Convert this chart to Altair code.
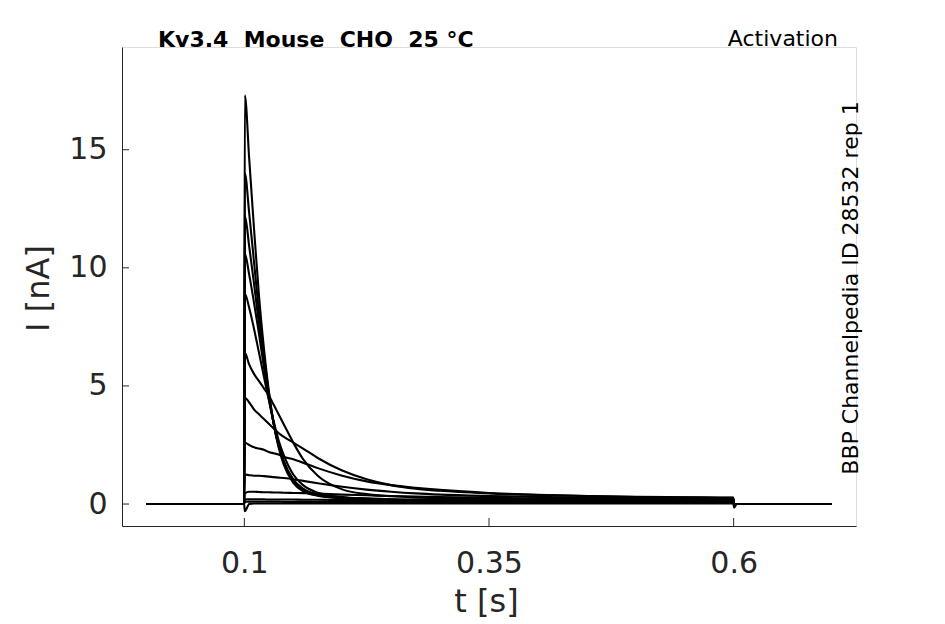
import altair as alt
import pandas as pd

# time grid (s)
t_s = [0.0, 0.0998, 0.1005, 0.105, 0.11, 0.115, 0.12, 0.125, 0.13, 0.135, 0.14,
       0.15, 0.16, 0.175, 0.2, 0.225, 0.25, 0.275, 0.3, 0.35, 0.4, 0.45, 0.5, 0.55,
       0.5995, 0.6005, 0.603, 0.7]

# current traces (nA)
I_a = [0, 0, 17.3, 14.6, 11.6, 8.8, 6.6, 4.8, 3.4, 2.4, 1.7, 0.9, 0.55, 0.35, 0.24, 0.2, 0.17, 0.155, 0.14, 0.12, 0.11, 0.1, 0.1, 0.09, 0.09, 0, 0, 0]
I_b = [0, 0, 14.0, 12.3, 10.2, 8.1, 6.3, 4.7, 3.4, 2.5, 1.8, 1.0, 0.6, 0.37, 0.25, 0.2, 0.18, 0.165, 0.15, 0.13, 0.11, 0.1, 0.1, 0.09, 0.09, 0, 0, 0]
I_c = [0, 0, 12.2, 10.9, 9.3, 7.6, 6.0, 4.6, 3.4, 2.5, 1.8, 1.0, 0.62, 0.38, 0.26, 0.21, 0.18, 0.165, 0.15, 0.13, 0.12, 0.11, 0.1, 0.1, 0.09, 0, 0, 0]
I_d = [0, 0, 10.6, 9.7, 8.5, 7.2, 5.8, 4.5, 3.4, 2.5, 1.85, 1.05, 0.65, 0.4, 0.27, 0.22, 0.19, 0.175, 0.16, 0.14, 0.12, 0.11, 0.11, 0.1, 0.1, 0, 0, 0]
I_e = [0, 0, 8.9, 8.3, 7.4, 6.4, 5.4, 4.4, 3.5, 2.7, 2.1, 1.25, 0.8, 0.48, 0.3, 0.24, 0.2, 0.185, 0.17, 0.15, 0.13, 0.12, 0.11, 0.11, 0.1, 0, 0, 0]
I_f = [0, 0, 6.4, 5.9, 5.5, 5.2, 4.9, 4.6, 4.2, 3.8, 3.4, 2.6, 1.9, 1.2, 0.62, 0.42, 0.33, 0.28, 0.25, 0.21, 0.19, 0.17, 0.16, 0.15, 0.14, 0, 0, 0]
I_g = [0, 0, 4.5, 4.3, 4.0, 3.8, 3.6, 3.4, 3.2, 3.0, 2.85, 2.6, 2.35, 1.95, 1.42, 1.05, 0.8, 0.65, 0.56, 0.45, 0.38, 0.34, 0.31, 0.29, 0.27, 0, 0, 0]
I_h = [0, 0, 2.6, 2.5, 2.4, 2.35, 2.3, 2.2, 2.15, 2.1, 2.0, 1.9, 1.75, 1.52, 1.2, 0.96, 0.8, 0.69, 0.6, 0.47, 0.39, 0.34, 0.3, 0.28, 0.26, 0, 0, 0]
I_i = [0, 0, 1.25, 1.22, 1.2, 1.2, 1.18, 1.16, 1.14, 1.12, 1.1, 1.05, 0.98, 0.88, 0.73, 0.61, 0.52, 0.45, 0.4, 0.34, 0.3, 0.27, 0.25, 0.23, 0.22, 0, 0, 0]
I_j = [0, 0, 0.45, 0.52, 0.52, 0.51, 0.5, 0.5, 0.49, 0.49, 0.48, 0.47, 0.46, 0.44, 0.4, 0.37, 0.34, 0.32, 0.3, 0.26, 0.24, 0.22, 0.2, 0.19, 0.18, 0, 0, 0]
I_k = [0, 0, 0.2, 0.2, 0.2, 0.2, 0.2, 0.19, 0.19, 0.19, 0.19, 0.19, 0.18, 0.18, 0.17, 0.17, 0.16, 0.155, 0.15, 0.15, 0.14, 0.14, 0.13, 0.13, 0.12, 0, 0, 0]
I_l = [0, 0, 0.1, 0.1, 0.1, 0.1, 0.1, 0.1, 0.1, 0.1, 0.09, 0.09, 0.09, 0.09, 0.09, 0.08, 0.08, 0.08, 0.08, 0.08, 0.08, 0.07, 0.07, 0.07, 0.07, 0, 0, 0]
I_m = [0, 0, -0.3, 0.0, 0.02, 0.02, 0.02, 0.02, 0.02, 0.02, 0.02, 0.02, 0.02, 0.02, 0.03, 0.03, 0.03, 0.03, 0.03, 0.03, 0.03, 0.03, 0.03, 0.03, 0.03, -0.15, 0, 0]

x_ticks = [0.1, 0.35, 0.6]
y_ticks = [0, 5, 10, 15]

title_text = "Kv3.4\u00a0\u00a0Mouse\u00a0\u00a0CHO\u00a0\u00a025 °C"
right_text = "Activation"
side_text = "BBP Channelpedia ID 28532 rep 1"

traces = {"a": I_a, "b": I_b, "c": I_c, "d": I_d, "e": I_e, "f": I_f, "g": I_g,
          "h": I_h, "i": I_i, "j": I_j, "k": I_k, "l": I_l, "m": I_m}
rows = []
for name, vals in traces.items():
    for k, (t, v) in enumerate(zip(t_s, vals)):
        rows.append({"trace": name, "t": t, "I": v, "k": k})
df = pd.DataFrame(rows)

W, H = 734, 479
AX = "#262626"
FONT = "DejaVu Sans"

xs = alt.Scale(domain=[-0.025, 0.725], nice=False, zero=False)
ys = alt.Scale(domain=[-0.93, 19.35], nice=False, zero=False)

lines = alt.Chart(df).mark_line(color="black", strokeWidth=2.1, interpolate="monotone").encode(
    x=alt.X("t:Q", scale=xs, axis=alt.Axis(
        values=x_ticks, format=".2~f", title="t [s]", ticks=False, grid=False,
        labelFontSize=30, labelColor=AX, labelPadding=22, labelFont=FONT,
        domainColor=AX, domainWidth=1,
        titleFontSize=32, titleFontWeight="normal", titleColor=AX, titleFont=FONT,
        titleX=364, titleY=85, titleAlign="center", titleBaseline="alphabetic")),
    y=alt.Y("I:Q", scale=ys, axis=alt.Axis(
        values=y_ticks, format="d", title="I [nA]", ticks=False, grid=False,
        labelFontSize=30, labelColor=AX, labelPadding=15, labelFont=FONT,
        domainColor=AX, domainWidth=1,
        titleFontSize=32, titleFontWeight="normal", titleColor=AX, titleFont=FONT,
        titleX=-74, titleY=241, titleAngle=270, titleAlign="center",
        titleBaseline="alphabetic")),
    detail="trace:N",
    order="k:Q",
)

xtick = alt.Chart(pd.DataFrame({"t": x_ticks})).mark_rule(color=AX, strokeWidth=1).encode(
    x=alt.X("t:Q", scale=xs), y=alt.value(H), y2=alt.value(H - 8))
ytick = alt.Chart(pd.DataFrame({"I": y_ticks})).mark_rule(color=AX, strokeWidth=1).encode(
    y=alt.Y("I:Q", scale=ys), x=alt.value(0), x2=alt.value(7))

title = alt.Chart(pd.DataFrame({"s": [title_text]})).mark_text(
    align="left", baseline="alphabetic", fontSize=22, fontWeight="bold",
    font=FONT, color="black").encode(text="s:N", x=alt.value(36), y=alt.value(0))
right = alt.Chart(pd.DataFrame({"s": [right_text]})).mark_text(
    align="right", baseline="alphabetic", fontSize=22, font=FONT,
    color="black").encode(text="s:N", x=alt.value(716), y=alt.value(-1))
side = alt.Chart(pd.DataFrame({"s": [side_text]})).mark_text(
    align="center", baseline="middle", fontSize=22, font=FONT, angle=270,
    color="black").encode(text="s:N", x=alt.value(729), y=alt.value(241))

chart = alt.layer(lines, xtick, ytick, title, right, side).properties(
    width=W, height=H, autosize="none",
    padding={"left": 114, "top": 39, "right": 60, "bottom": 96},
).configure_view(stroke=None).configure(font=FONT)

chart.save("out.html", embed_options={"renderer": "svg", "actions": False})
